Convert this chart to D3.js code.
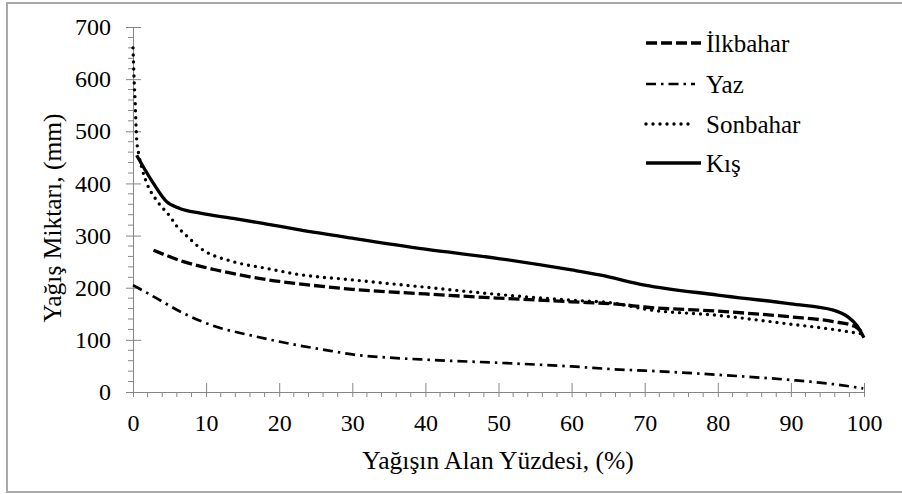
<!DOCTYPE html>
<html>
<head>
<meta charset="utf-8">
<script src="https://cdn.jsdelivr.net/npm/d3@7/dist/d3.min.js"></script>
<style>
  html, body { margin: 0; padding: 0; background: #fff; }
  svg { display: block; }
</style>
</head>
<body>
<svg id="chart" width="902" height="494"></svg>
<script>
// ---- data ----
const seriesNames = ["İlkbahar", "Yaz", "Sonbahar", "Kış"];

const ilkbaharX = [2.8, 6.9, 11.4, 16, 20, 22.4, 30, 40, 50, 60, 66.6, 70, 80, 90, 95.8, 98.7, 99.9];
const ilkbaharY = [272, 250, 234, 221, 212, 208, 197, 188, 180, 173, 168, 163, 155, 144, 135, 126, 112];

const yazX = [0, 3.2, 6.9, 11.4, 16, 22.4, 27, 30, 35, 40, 50, 60, 66.6, 70, 80, 90, 95.8, 99.9];
const yazY = [205, 180, 151, 125, 109, 90, 79, 72, 66, 62, 56, 49, 43, 41, 33, 23, 15, 7];

const sonbaharX = [0, 0.15, 0.3, 0.5, 0.8, 1.2, 1.9, 3.2, 5.1, 6, 7.3, 9.2, 13.7, 18.3, 22.4, 30, 40, 50, 60, 66, 70, 80, 90, 95.8, 99.5];
const sonbaharY = [660, 600, 555, 485, 455, 430, 400, 368, 336, 318, 300, 276, 250, 237, 226, 215, 201, 187, 176, 170, 159, 147, 130, 120, 112];

const kisX = [0.5, 1.4, 2.8, 4.6, 6.4, 9.2, 13.7, 18.3, 22.8, 30, 40, 50, 60, 64, 70, 80, 90, 95.8, 97.8, 99, 100];
const kisY = [454, 432, 400, 365, 352, 343, 333, 322, 311, 295, 274, 256, 234, 224, 205, 186, 169, 157, 144, 128, 104];

const xTicks = [0, 10, 20, 30, 40, 50, 60, 70, 80, 90, 100];
const yTicks = [0, 100, 200, 300, 400, 500, 600, 700];
const xTitle = "Yağışın Alan Yüzdesi, (%)";
const yTitle = "Yağış Miktarı, (mm)";

// ---- chart ----
const FONT = "Liberation Serif";
const svg = d3.select("#chart");
const x0 = 133, x1 = 864, y0 = 392, y1 = 27;
const x = d3.scaleLinear().domain([0, 100]).range([x0, x1]);
const y = d3.scaleLinear().domain([0, 700]).range([y0, y1]);
const axisColor = "#868686";

// outer border
svg.append("rect").attr("x", 7).attr("y", 3).attr("width", 910).attr("height", 489)
  .attr("fill", "none").attr("stroke", "#a9a9a9").attr("stroke-width", 2);

// minor ticks
const xMinor = d3.range(0, 101, 2).filter(v => v % 10 !== 0);
const yMinor = d3.range(0, 701, 20).filter(v => v % 100 !== 0);
svg.append("g").selectAll("line").data(xMinor).join("line")
  .attr("x1", d => x(d)).attr("x2", d => x(d)).attr("y1", y0).attr("y2", y0 + 5)
  .attr("stroke", axisColor).attr("stroke-width", 1);
svg.append("g").selectAll("line").data(yMinor).join("line")
  .attr("y1", d => y(d)).attr("y2", d => y(d)).attr("x1", x0 - 5).attr("x2", x0)
  .attr("stroke", axisColor).attr("stroke-width", 1);

// x axis
const xAxis = svg.append("g").attr("transform", `translate(0,${y0})`)
  .call(d3.axisBottom(x).tickValues(xTicks).tickSize(0).tickPadding(22).tickFormat(d3.format("d")));
xAxis.attr("font-family", FONT).attr("font-size", 24);
xAxis.select(".domain").attr("stroke", axisColor);
xAxis.selectAll("text").attr("fill", "#000");
xAxis.selectAll(".tick").append("line").attr("y1", -9).attr("y2", 5).attr("stroke", axisColor);

// y axis
const yAxis = svg.append("g").attr("transform", `translate(${x0},0)`)
  .call(d3.axisLeft(y).tickValues(yTicks).tickSize(0).tickPadding(22).tickFormat(d3.format("d")));
yAxis.attr("font-family", FONT).attr("font-size", 24);
yAxis.select(".domain").attr("stroke", axisColor);
yAxis.selectAll("text").attr("fill", "#000");
yAxis.selectAll(".tick").append("line").attr("x1", -7).attr("x2", 8).attr("stroke", axisColor);

// titles
svg.append("text").attr("x", 498).attr("y", 469).attr("text-anchor", "middle")
  .attr("font-family", FONT).attr("font-size", 25.5).text(xTitle);
svg.append("text").attr("transform", "translate(61,218) rotate(-90)").attr("text-anchor", "middle")
  .attr("font-family", FONT).attr("font-size", 25.5).text(yTitle);

// series
const styles = [
  { name: seriesNames[0], xs: ilkbaharX, ys: ilkbaharY, w: 3.3, dash: "11 4", cap: "butt" },
  { name: seriesNames[1], xs: yazX, ys: yazY, w: 2.7, dash: "10 5 2.5 5", cap: "butt" },
  { name: seriesNames[2], xs: sonbaharX, ys: sonbaharY, w: 3.4, dash: "0 7", cap: "round" },
  { name: seriesNames[3], xs: kisX, ys: kisY, w: 3.3, dash: null, cap: "butt" }
];
const line = d3.line().x(d => x(d[0])).y(d => y(d[1])).curve(d3.curveMonotoneX);
styles.forEach(s => {
  const pts = s.xs.map((v, i) => [v, s.ys[i]]);
  svg.append("path").datum(pts).attr("d", line)
    .attr("fill", "none").attr("stroke", "#000").attr("stroke-width", s.w)
    .attr("stroke-dasharray", s.dash).attr("stroke-linecap", s.cap).attr("stroke-linejoin", "round");
});

// legend
const legY = [43, 84, 124, 163];
const lg = svg.append("g");
styles.forEach((s, i) => {
  lg.append("line").attr("x1", 646).attr("x2", i === 0 || i === 3 ? 701 : 695)
    .attr("y1", legY[i]).attr("y2", legY[i])
    .attr("stroke", "#000").attr("stroke-width", s.w)
    .attr("stroke-dasharray", s.dash).attr("stroke-linecap", s.cap);
  lg.append("text").attr("x", 706).attr("y", legY[i] + 9)
    .attr("font-family", FONT).attr("font-size", 25).text(s.name);
});
</script>
</body>
</html>
